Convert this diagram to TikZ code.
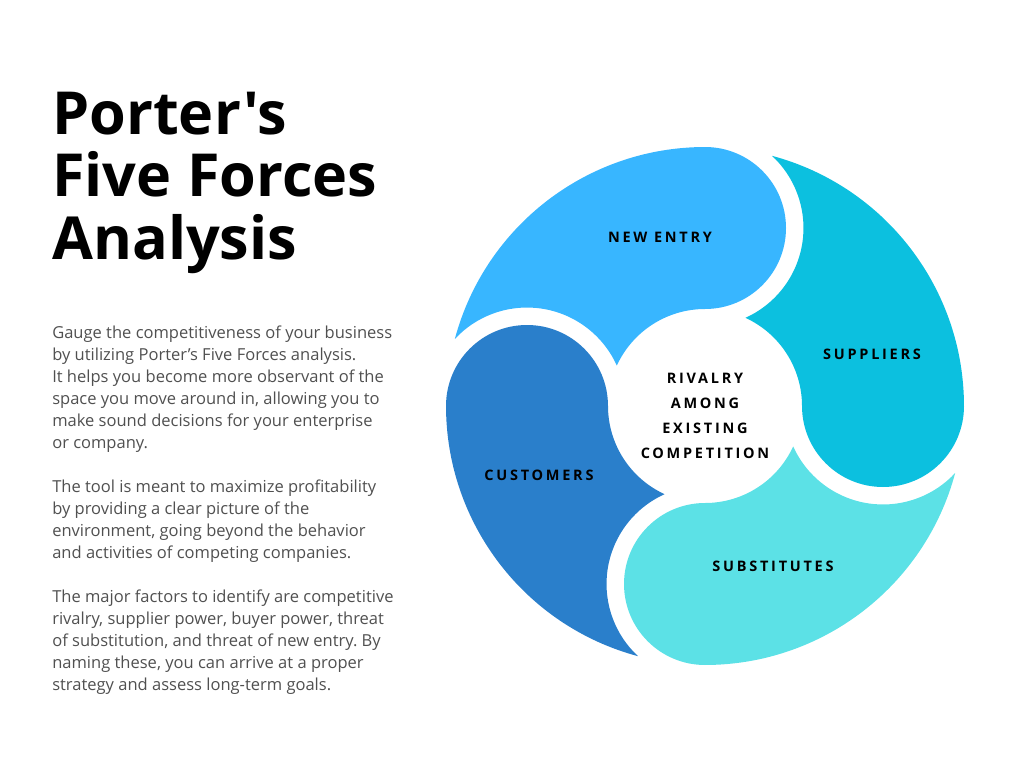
\documentclass[tikz,border=0pt]{standalone}
\usepackage{fontspec}
\setmainfont{Open Sans}[Ligatures=TeXOff]
\newfontfamily\tagfont[LetterSpace=19]{Open Sans}
\usetikzlibrary{calc}

\definecolor{entryblue}{HTML}{38B6FF}
\definecolor{supplyteal}{HTML}{0CC0DF}
\definecolor{substcyan}{HTML}{5CE1E6}
\definecolor{custblue}{HTML}{2A7FCB}
\definecolor{bodygray}{HTML}{505050}

\begin{document}
\frenchspacing
\begin{tikzpicture}[
    x=2.5cm, y=2.5cm,
    headline/.style={
        anchor=north west,
        inner sep=0pt,
        align=left,
        font=\fontsize{42.2}{44.5}\selectfont\bfseries
    },
    para/.style={
        anchor=north west,
        inner sep=0pt,
        align=left,
        text=bodygray,
        font=\fontsize{11.75}{15.65}\selectfont
    },
    tag/.style={
        inner sep=0pt,
        align=center,
        font=\tagfont\bfseries\fontsize{10.3}{17.8}\selectfont
    }
]
\useasboundingbox (0,0) rectangle (10.24,-7.68);

% -----------------------------------------------------------------------------
% Title and text
% -----------------------------------------------------------------------------
\node[headline] (title) at (0.52,-0.917)
    {Porter's\\Five Forces\\Analysis};

\node[para] (intro) at (0.52,-3.255)
    {Gauge the competitiveness of your business\\
     by utilizing Porter’s Five Forces analysis.\\
     It helps you become more observant of the\\
     space you move around in, allowing you to\\
     make sound decisions for your enterprise\\
     or company.};
\node[para] (toolpara) at (0.52,-4.795)
    {The tool is meant to maximize profitability\\
     by providing a clear picture of the\\
     environment, going beyond the behavior\\
     and activities of competing companies.};
\node[para] (factors) at (0.52,-5.895)
    {The major factors to identify are competitive\\
     rivalry, supplier power, buyer power, threat\\
     of substitution, and threat of new entry. By\\
     naming these, you can arrive at a proper\\
     strategy and assess long-term goals.};

% -----------------------------------------------------------------------------
% Swirl of four forces round the hub
% -----------------------------------------------------------------------------
\coordinate (hub) at (7.05,-4.06);
\foreach \t/\col in {90/entryblue, 0/supplyteal, 270/substcyan, 180/custblue} {
    \fill[\col] ($(hub)+(\t:2.59)$)
        arc[start angle=\t, end angle=\t-180, radius=0.81]
        arc[start angle=\t, end angle=\t+65.38, radius=0.97]
        arc[start angle=\t+294.23, end angle=\t+407.12, radius=0.985]
        arc[start angle=\t+75, end angle=\t, radius=2.59] -- cycle;
}

\node[tag] (entry) at (6.60,-2.37) {NEW ENTRY};
\node[tag] (suppliers) at (8.72,-3.54) {SUPPLIERS};
\node[tag] (customers) at (5.39,-4.75) {CUSTOMERS};
\node[tag] (substitutes) at (7.73,-5.66) {SUBSTITUTES};
\node[tag] (rivalry) at (7.05,-4.155)
    {RIVALRY\\AMONG\\EXISTING\\COMPETITION};

\end{tikzpicture}
\end{document}
